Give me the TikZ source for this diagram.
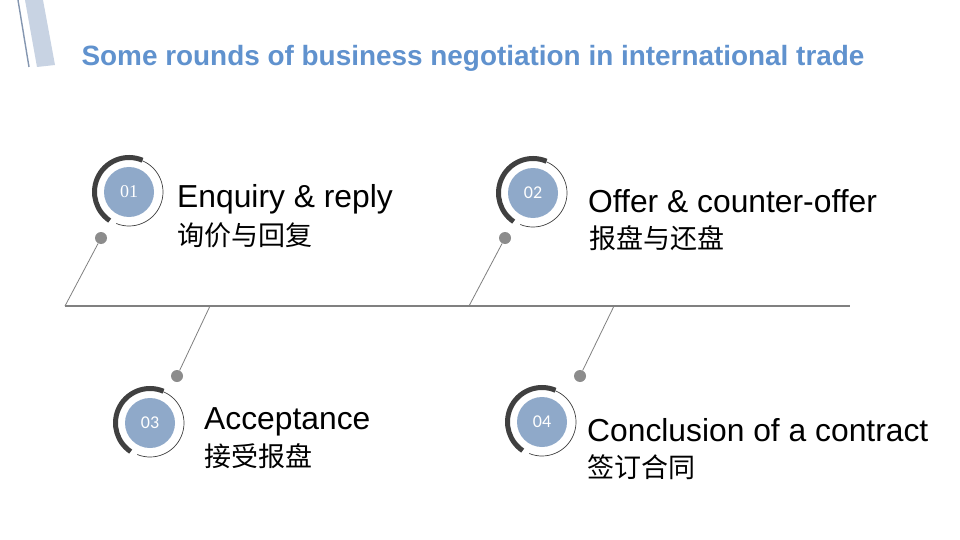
\documentclass[tikz,border=0pt]{standalone}
\usepackage{fontspec}
\setmainfont{Liberation Sans}
\newfontfamily\cjk{Noto Sans CJK SC}
\newfontfamily\numserif{Liberation Serif}
\newfontfamily\numsans{Carlito}
\usepackage{xcolor}
\usepackage{tikz}
\usetikzlibrary{positioning}

\definecolor{titleblue}{RGB}{96,146,206}
\definecolor{discblue}{RGB}{143,169,201}
\definecolor{ringdark}{RGB}{64,64,64}
\definecolor{linegray}{RGB}{128,128,128}
\definecolor{dotgray}{RGB}{140,140,140}
\definecolor{stripblue}{RGB}{200,211,227}
\definecolor{stripline}{RGB}{132,150,176}

\begin{document}
\begin{tikzpicture}[
  x=1pt, y=1pt,
  disc/.style={circle, fill=discblue, minimum size=50pt, inner sep=0pt, text=white, font=\fontsize{18}{18}\selectfont},
  darkring/.style={draw=ringdark, line width=5pt},
  thinring/.style={draw=ringdark, line width=0.7pt},
  dot/.style={circle, fill=dotgray, minimum size=12pt, inner sep=0pt},
  link/.style={draw=linegray, line width=1.1pt},
  entext/.style={anchor=base west, inner sep=0pt, font=\fontsize{31.8}{31.8}\selectfont},
  zhtext/.style={anchor=west, inner sep=0pt, font=\cjk\fontsize{27}{27}\selectfont}
]
\useasboundingbox[fill=white] (0,0) rectangle (960,-540);

% corner strip
\fill[stripblue] (25,0) -- (43,0) -- (55,-65) -- (37,-67) -- cycle;
\draw[stripline, line width=1.4pt] (18,0) -- (29,-67);

% title
\node[font=\bfseries\fontsize{27.9}{27.9}\selectfont, text=titleblue] (title) at (473,-58) {Some rounds of business negotiation in international trade};

% timeline
\coordinate (start) at (65,-306);
\coordinate (end) at (850,-306);
\coordinate (j1) at (65,-306);
\coordinate (j2) at (469,-306);
\coordinate (j3) at (210,-306);
\coordinate (j4) at (614,-306);
\draw[link] (start) -- (end);

% round 01
\node[disc] (c1) at (129,-192) {\numserif 01};
\draw[darkring] (c1.center) ++(67:34.5) arc[start angle=67, end angle=236, radius=34.5];
\draw[thinring] (c1.center) ++(67:34) arc[start angle=67, end angle=-112, radius=34];
\node[dot] (d1) at (101,-238) {};
\node[entext] (en1) at (177,-207) {Enquiry \& reply};
\node[zhtext] (zh1) at (177,-235) {询价与回复};

% round 02
\node[disc] (c2) at (533,-193) {\numsans 02};
\draw[darkring] (c2.center) ++(67:34.5) arc[start angle=67, end angle=236, radius=34.5];
\draw[thinring] (c2.center) ++(67:34) arc[start angle=67, end angle=-112, radius=34];
\node[dot] (d2) at (505,-238) {};
\node[entext] (en2) at (588,-212) {Offer \& counter-offer};
\node[zhtext] (zh2) at (589,-238) {报盘与还盘};

% round 03
\node[disc] (c3) at (150,-423) {\numsans 03};
\draw[darkring] (c3.center) ++(67:34.5) arc[start angle=67, end angle=236, radius=34.5];
\draw[thinring] (c3.center) ++(67:34) arc[start angle=67, end angle=-112, radius=34];
\node[dot] (d3) at (177,-376) {};
\node[entext] (en3) at (204,-429) {Acceptance};
\node[zhtext] (zh3) at (204,-456) {接受报盘};

% round 04
\node[disc] (c4) at (542,-422) {\numsans 04};
\draw[darkring] (c4.center) ++(67:34.5) arc[start angle=67, end angle=236, radius=34.5];
\draw[thinring] (c4.center) ++(67:34) arc[start angle=67, end angle=-112, radius=34];
\node[dot] (d4) at (580,-376) {};
\node[entext] (en4) at (587,-441) {Conclusion of a contract};
\node[zhtext] (zh4) at (587,-467) {签订合同};

% connectors to the timeline
\draw[link, line width=0.8pt] (d1) -- (j1);
\draw[link, line width=0.8pt] (d2) -- (j2);
\draw[link, line width=0.8pt] (d3) -- (j3);
\draw[link, line width=0.8pt] (d4) -- (j4);
\end{tikzpicture}
\end{document}
